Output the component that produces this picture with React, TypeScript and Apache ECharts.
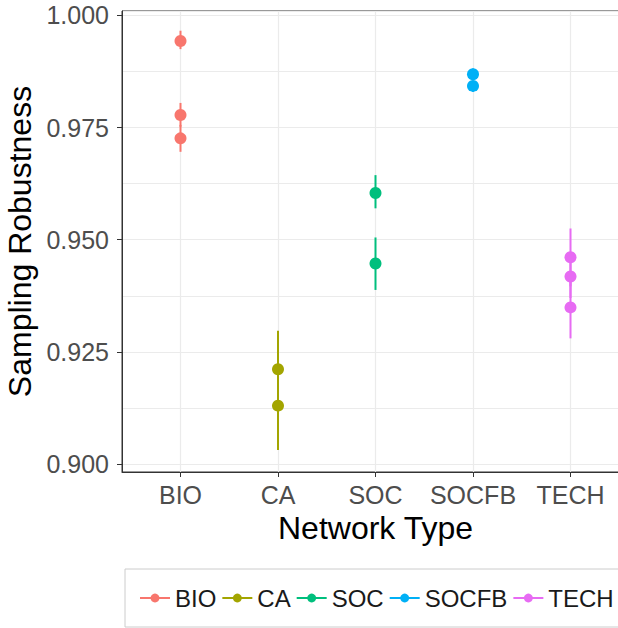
import React, { useEffect, useRef } from 'react';
import * as echarts from 'echarts';

// Network types on the x axis and their ggplot-style hue colours
const categories = ['BIO', 'CA', 'SOC', 'SOCFB', 'TECH'];
const colors = ['#F8766D', '#A3A500', '#00BF7D', '#00B0F6', '#E76BF3'];

// Sampling robustness estimates with lower / upper interval bounds
const bioMean = [0.9943, 0.9778, 0.9726];
const bioLow = [0.9925, 0.9752, 0.9696];
const bioHigh = [0.9966, 0.9805, 0.9756];

const caMean = [0.9211, 0.913];
const caLow = [0.9125, 0.9031];
const caHigh = [0.9297, 0.923];

const socMean = [0.9604, 0.9447];
const socLow = [0.957, 0.9388];
const socHigh = [0.9644, 0.9505];

const socfbMean = [0.9869, 0.9843];
const socfbLow = [0.9861, 0.983];
const socfbHigh = [0.9882, 0.985];

const techMean = [0.9461, 0.9418, 0.9349];
const techLow = [0.9396, 0.937, 0.928];
const techHigh = [0.9525, 0.9465, 0.942];

// Axis ranges and tick labels
const yMin = 0.8982;
const yMax = 1.001;
const yTicks = [0.9, 0.925, 0.95, 0.975, 1.0];
const xTicks = [1, 2, 3, 4, 5];

const groups = [
  { mean: bioMean, low: bioLow, high: bioHigh },
  { mean: caMean, low: caLow, high: caHigh },
  { mean: socMean, low: socLow, high: socHigh },
  { mean: socfbMean, low: socfbLow, high: socfbHigh },
  { mean: techMean, low: techLow, high: techHigh },
];

const FONT = 'Liberation Sans, Arial, sans-serif';

export default function App() {
  const ref = useRef<HTMLDivElement>(null);

  useEffect(() => {
    if (!ref.current) return;
    const chart = echarts.init(ref.current, null, { renderer: 'svg' });

    // points: line series with hidden connecting line (keeps line+dot legend keys)
    const pointSeries = groups.map((g, i) => ({
      name: categories[i],
      type: 'line',
      xAxisIndex: 0,
      yAxisIndex: 0,
      data: g.mean.map((m) => [i + 1, m]),
      symbol: 'circle',
      symbolSize: 12,
      color: colors[i],
      itemStyle: { color: colors[i] },
      lineStyle: { color: colors[i], width: 2, opacity: 0 },
      z: 4,
    }));

    // vertical interval bars
    const barSeries = groups.map((g, i) => ({
      name: categories[i],
      type: 'custom',
      xAxisIndex: 0,
      yAxisIndex: 0,
      data: g.mean.map((_, j) => [i + 1, g.low[j], g.high[j]]),
      encode: { x: 0, y: [1, 2] },
      renderItem: (_params: any, api: any) => {
        const top = api.coord([api.value(0), api.value(2)]);
        const bot = api.coord([api.value(0), api.value(1)]);
        return {
          type: 'line',
          shape: { x1: top[0], y1: top[1], x2: bot[0], y2: bot[1] },
          style: { stroke: colors[i], lineWidth: 2 },
        };
      },
      z: 3,
    }));

    chart.setOption({
      animation: false,
      backgroundColor: '#ffffff',
      grid: {
        left: 122,
        top: 11,
        right: -11,
        bottom: 156,
        show: true,
        borderColor: '#333333',
        borderWidth: 1,
        backgroundColor: 'transparent',
        outerBoundsMode: 'none',
      },
      legend: {
        data: categories,
        left: 125,
        top: 569,
        width: 495,
        orient: 'horizontal',
        padding: [17, 14, 17, 14],
        itemGap: 5,
        itemWidth: 30,
        itemHeight: 11,
        borderColor: '#cccccc',
        borderWidth: 1,
        lineStyle: { width: 2, opacity: 1 },
        textStyle: { fontSize: 24, color: '#1a1a1a', fontFamily: FONT },
      },
      xAxis: [
        {
          type: 'value',
          min: 0.4,
          max: 5.6,
          minInterval: 1,
          maxInterval: 1,
          name: 'Network Type',
          nameLocation: 'middle',
          nameGap: 37,
          nameTextStyle: { fontSize: 32, color: '#000000', fontFamily: FONT },
          axisLine: { show: true, lineStyle: { color: '#333333', width: 1 } },
          axisTick: {
            show: true,
            customValues: xTicks,
            length: 5,
            lineStyle: { color: '#333333', width: 1 },
          },
          axisLabel: {
            customValues: xTicks,
            formatter: (v: number) => categories[Math.round(v) - 1] ?? '',
            fontSize: 25,
            color: '#4d4d4d',
            fontFamily: FONT,
            margin: 10,
          },
          splitLine: { show: true, lineStyle: { color: '#ebebeb', width: 1.2 } },
        },
      ],
      yAxis: [
        {
          type: 'value',
          min: yMin,
          max: yMax,
          minInterval: 0.025,
          maxInterval: 0.025,
          name: 'Sampling Robustness',
          nameLocation: 'middle',
          nameGap: 73,
          nameTextStyle: { fontSize: 32, color: '#000000', fontFamily: FONT },
          axisLine: { show: true, lineStyle: { color: '#333333', width: 1 } },
          axisTick: {
            show: true,
            customValues: yTicks,
            length: 5,
            lineStyle: { color: '#333333', width: 1 },
          },
          axisLabel: {
            customValues: yTicks,
            formatter: (v: number) => v.toFixed(3),
            fontSize: 25,
            color: '#4d4d4d',
            fontFamily: FONT,
            margin: 13,
          },
          splitLine: { show: true, lineStyle: { color: '#ebebeb', width: 1.2 } },
        },
        {
          // minor horizontal grid every 0.0125
          type: 'value',
          min: yMin,
          max: yMax,
          minInterval: 0.0125,
          maxInterval: 0.0125,
          axisLine: { show: false },
          axisTick: { show: false },
          axisLabel: { show: false },
          splitLine: { show: true, lineStyle: { color: '#ebebeb', width: 1 } },
        },
      ],
      series: [...pointSeries, ...barSeries],
    });

    return () => chart.dispose();
  }, []);

  return (
    <div
      ref={ref}
      style={{ position: 'fixed', left: 0, top: 0, width: 618, height: 628, background: '#fff' }}
    />
  );
}
